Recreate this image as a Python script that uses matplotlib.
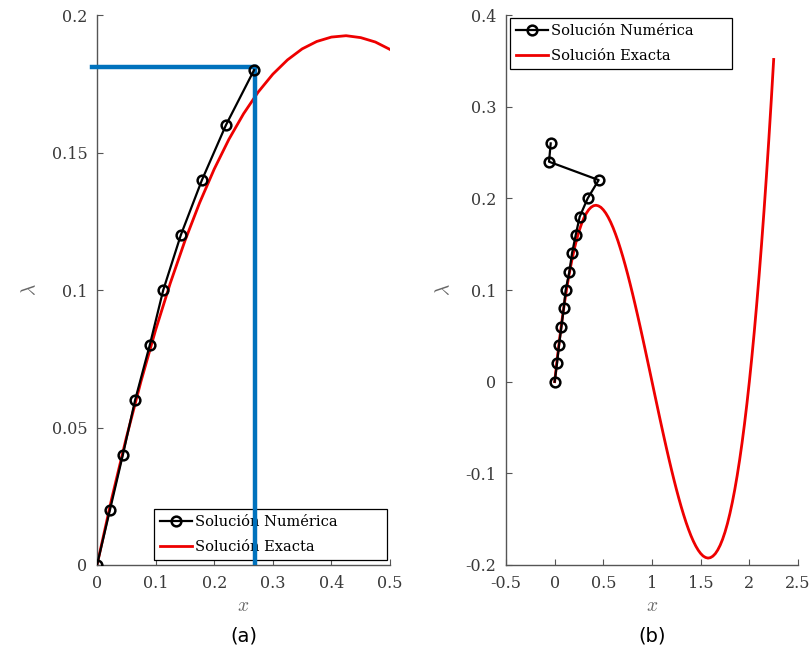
import matplotlib
matplotlib.use("Agg")
import matplotlib.pyplot as plt

# numerical solution (x, lambda)
lam_num = [0.0, 0.02, 0.04, 0.06, 0.08, 0.10, 0.12, 0.14, 0.16, 0.18]
x_num_a = [0.0, 0.022, 0.044, 0.065, 0.090, 0.113, 0.143, 0.179, 0.220, 0.268]
lam_num_b = [0.0, 0.02, 0.04, 0.06, 0.08, 0.10, 0.12, 0.14, 0.16, 0.18,
             0.20, 0.22, 0.24, 0.26]
x_num_b = [0.0, 0.024, 0.045, 0.069, 0.093, 0.113, 0.151, 0.178, 0.216, 0.257,
           0.339, 0.452, -0.058, -0.041]

# exact solution (step 0.025 in x)
x_ex = [i * 0.025 for i in range(91)]
lam_ex = [0.0, 0.0241, 0.0463, 0.0668, 0.0855, 0.1025, 0.1179, 0.1317, 0.144, 0.1548,
          0.1641, 0.172, 0.1785, 0.1837, 0.1877, 0.1904, 0.192, 0.1925, 0.1918, 0.1902,
          0.1875, 0.1839, 0.1794, 0.1741, 0.168, 0.1611, 0.1536, 0.1453, 0.1365, 0.1271,
          0.1172, 0.1068, 0.096, 0.0848, 0.0733, 0.0615, 0.0495, 0.0373, 0.0249, 0.0125,
          0.0, -0.0125, -0.0249, -0.0373, -0.0495, -0.0615, -0.0733, -0.0848, -0.096, -0.1068,
          -0.1172, -0.1271, -0.1365, -0.1453, -0.1536, -0.1611, -0.168, -0.1741, -0.1794, -0.1839,
          -0.1875, -0.1902, -0.1918, -0.1925, -0.192, -0.1904, -0.1877, -0.1837, -0.1785, -0.172,
          -0.1641, -0.1548, -0.144, -0.1317, -0.1179, -0.1025, -0.0855, -0.0668, -0.0463, -0.0241,
          0.0, 0.026, 0.0538, 0.0837, 0.1155, 0.1494, 0.1854, 0.2236, 0.264, 0.3066,
          0.3516]

# marked point in panel (a)
x_mark = 0.27
lam_mark = 0.181

plt.rcParams['font.family'] = ['DejaVu Serif']
plt.rcParams['mathtext.fontset'] = 'cm'

fig = plt.figure(figsize=(8.1, 6.5), dpi=100)
ax1 = fig.add_axes([0.1198, 0.1308, 0.3617, 0.846])
ax2 = fig.add_axes([0.6247, 0.1308, 0.3605, 0.846])

grey = '#3a3a3a'


def style(ax):
    for s in ['top', 'right']:
        ax.spines[s].set_visible(False)
    for s in ['left', 'bottom']:
        ax.spines[s].set_color('#555555')
        ax.spines[s].set_linewidth(1.0)
    ax.tick_params(direction='in', length=4, color='#555555', labelcolor=grey,
                   labelsize=11.5, pad=7)
    ax.set_xlabel('$x$', fontsize=14, color='#666666', labelpad=4)
    ax.set_ylabel(r'$\lambda$', fontsize=14, color='#666666', labelpad=9)


def legend(ax, box, loc):
    leg = ax.legend(loc=loc, bbox_to_anchor=box, mode='expand', fontsize=10.5,
                    fancybox=False, edgecolor='black', framealpha=1,
                    handlelength=2.2, borderpad=0.4, labelspacing=0.75,
                    handletextpad=0.2, borderaxespad=0)
    leg.get_frame().set_linewidth(0.9)


# panel (a)
ax1.plot([-0.008, x_mark], [lam_mark, lam_mark], color='#0072BD', lw=3.2,
         clip_on=False, zorder=6)
ax1.plot([x_mark, x_mark], [0, lam_mark], color='#0072BD', lw=3.2, zorder=6)
ax1.plot(x_num_a, lam_num, '-o', color='black', lw=1.6, ms=7, mew=1.8,
         mfc='none', label='Solución Numérica', zorder=7)
ax1.plot(x_ex, lam_ex, color='#ee0000', lw=2, label='Solución Exacta', zorder=2)
ax1.set_xlim(0, 0.5)
ax1.set_ylim(0, 0.2)
ax1.set_xticks([0, 0.1, 0.2, 0.3, 0.4, 0.5])
ax1.set_xticklabels(['0', '0.1', '0.2', '0.3', '0.4', '0.5'])
ax1.set_yticks([0, 0.05, 0.1, 0.15, 0.2])
ax1.set_yticklabels(['0', '0.05', '0.1', '0.15', '0.2'])
style(ax1)
legend(ax1, (0.1945, 0.009, 0.795, 0.096), 'lower left')
ax1.text(0.5, -0.13, '(a)', transform=ax1.transAxes, ha='center', va='center',
         fontsize=14, color='black', family='DejaVu Sans')

# panel (b)
ax2.plot(x_num_b, lam_num_b, '-o', color='black', lw=1.6, ms=7, mew=1.8,
         mfc='none', label='Solución Numérica', zorder=3)
ax2.plot(x_ex, lam_ex, color='#ee0000', lw=2, label='Solución Exacta', zorder=2)
ax2.set_xlim(-0.5, 2.5)
ax2.set_ylim(-0.2, 0.4)
ax2.set_xticks([-0.5, 0, 0.5, 1, 1.5, 2, 2.5])
ax2.set_xticklabels(['-0.5', '0', '0.5', '1', '1.5', '2', '2.5'])
ax2.set_yticks([-0.2, -0.1, 0, 0.1, 0.2, 0.3, 0.4])
ax2.set_yticklabels(['-0.2', '-0.1', '0', '0.1', '0.2', '0.3', '0.4'])
style(ax2)
legend(ax2, (0.0137, 0.8945, 0.760, 0.1), 'upper left')
ax2.text(0.5, -0.13, '(b)', transform=ax2.transAxes, ha='center', va='center',
         fontsize=14, color='black', family='DejaVu Sans')

fig.savefig('out.png', dpi=100)
